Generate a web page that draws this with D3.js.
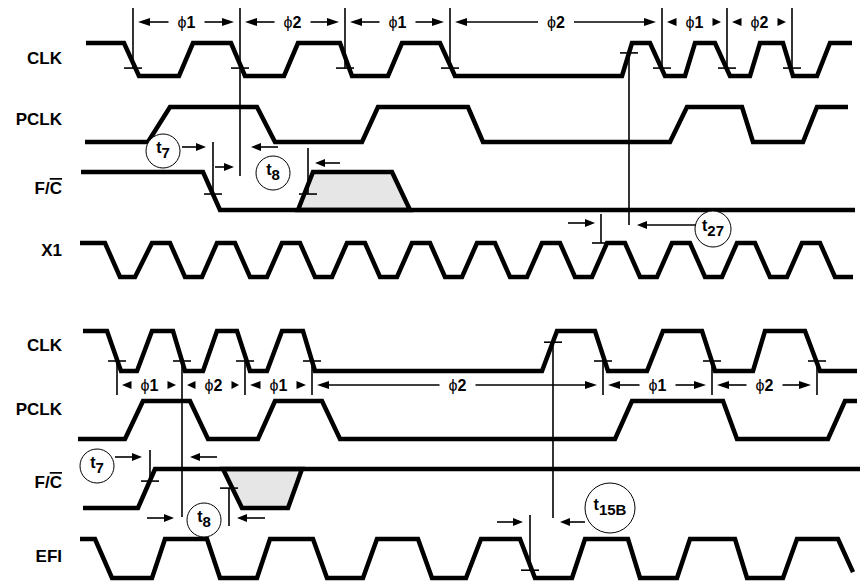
<!DOCTYPE html>
<html>
<head>
<style>
body { margin: 0; background: #fff; }
svg { font-family: "Liberation Sans", Arial, sans-serif; }
.wave { fill: none; stroke: #000; stroke-width: 4.5; stroke-linejoin: miter; }
.shade { fill: #e6e6e6; stroke: #000; stroke-width: 4.5; stroke-linejoin: miter; }
.mark { stroke: #000; stroke-width: 1.6; }
.lbl { font-weight: bold; font-size: 17px; }
.circ { fill: #fff; stroke: #000; stroke-width: 1; }
</style>
<title>timing</title>
<script src="https://cdn.jsdelivr.net/npm/d3@7/dist/d3.min.js"></script>
</head>
<body>
<svg width="860" height="583"></svg>
<script>

// waveform breakpoints: [time, level]  (level 1 = high, 0 = low)
var clkA = [[86,1],[124,1],[139,0],[179,0],[193,1],[231,1],[245,0],[284,0],[298,1],[340,1],[352,0],[388,0],[402,1],[440,1],[455,0],
            [622,0],[632,1],[650,1],[665,0],[685,0],[695,1],[715,1],[730,0],[750,0],[760,1],[783,1],[793,0],[817,0],[830,1],[852,1]];
var pclkA = [[85,0],[148,0],[170,1],[257,1],[275,0],[362,0],[378,1],[468,1],[483,0],[670,0],[687,1],[742,1],[753,0],[803,0],[817,1],[848,1]];
var fcA = [[81,1],[203,1],[220,0],[855,0]];
var fcAshade = [[298,0],[313,1],[392,1],[410,0]];
var x1 = [[80,1],[105,1],[120,0],[135,0],[152,1],[170,1],[185,0],[202,0],[217,1],[235,1],[250,0],[267,0],[282,1],[300,1],
          [315,0],[332,0],[347,1],[365,1],[380,0],[397,0],[412,1],[430,1],[445,0],[462,0],[477,1],[495,1],[510,0],[527,0],
          [542,1],[560,1],[575,0],[592,0],[607,1],[625,1],[640,0],[657,0],[672,1],[690,1],[705,0],[722,0],[737,1],[755,1],
          [770,0],[787,0],[802,1],[820,1],[835,0],[853,0]];

var clkB = [[83,1],[107,1],[121,0],[137,0],[152,1],[173,1],[185,0],[203,0],[217,1],[237,1],[250,0],[267,0],[282,1],[303,1],
            [315,0],[542,0],[557,1],[595,1],[608,0],[647,0],[663,1],[702,1],[715,0],[753,0],[765,1],[805,1],[820,0],[857,0]];
var pclkB = [[78,0],[125,0],[143,1],[190,1],[208,0],[258,0],[275,1],[322,1],[340,0],[615,0],[632,1],[723,1],[737,0],[828,0],[845,1],[857,1]];
var fcB = [[83,0],[138,0],[155,1],[860,1]];
var fcBshade = [[223,1],[242,0],[288,0],[302,1]];
var efi = [[80,1],[95,1],[112,0],[152,0],[165,1],[207,1],[220,0],[257,0],[270,1],[313,1],[327,0],[363,0],[377,1],[418,1],
           [432,0],[466,0],[481,1],[520,1],[535,0],[572,0],[585,1],[628,1],[640,0],[677,0],[690,1],[735,1],[747,0],[783,0],
           [797,1],[838,1],[853,0.15]];

// phase boundaries (clock edges) and labels
var phaseA = [133,240,345,450,662,727,792];
var phaseB = [117,182,245,312,603,712,817];
var phaseLabels = ["1","2","1","2","1","2"];

var svg = d3.select("svg");
var x = d3.scaleLinear().domain([0, 860]).range([0, 860]);

// row layout: y of high and low level
var rows = {
  clkA:  {name:"CLK",  hi:43,  lo:76},
  pclkA: {name:"PCLK", hi:107, lo:142},
  fcA:   {name:"F/C",  hi:172, lo:210},
  x1:    {name:"X1",   hi:243, lo:277},
  clkB:  {name:"CLK",  hi:331, lo:371},
  pclkB: {name:"PCLK", hi:401, lo:439},
  fcB:   {name:"F/C",  hi:469, lo:508},
  efi:   {name:"EFI",  hi:539, lo:578}
};
Object.keys(rows).forEach(function(k) {
  rows[k].y = d3.scaleLinear().domain([0, 1]).range([rows[k].lo, rows[k].hi]);
});

function lineFor(r) {
  return d3.line().x(function(d) { return x(d[0]); }).y(function(d) { return r.y(d[1]); });
}

// shaded (undefined) regions first
[[fcAshade, rows.fcA], [fcBshade, rows.fcB]].forEach(function(s) {
  svg.append("path").attr("class", "shade").attr("d", lineFor(s[1])(s[0]) + "Z");
});

[[clkA,"clkA"],[pclkA,"pclkA"],[fcA,"fcA"],[x1,"x1"],[clkB,"clkB"],[pclkB,"pclkB"],[fcB,"fcB"],[efi,"efi"]].forEach(function(w) {
  svg.append("path").attr("class", "wave").attr("d", lineFor(rows[w[1]])(w[0]));
});

// signal names
var labelY = {clkA:58, pclkA:119, fcA:188, x1:250, clkB:345, pclkB:409, fcB:482, efi:556};
Object.keys(rows).forEach(function(k) {
  var r = rows[k];
  var t = svg.append("text").attr("class", "lbl")
    .attr("x", 62).attr("y", labelY[k] + 6)
    .attr("text-anchor", "end");
  if (r.name == "F/C") {
    t.append("tspan").text("F/");
    t.append("tspan").style("text-decoration", "overline").text("C");
  } else {
    t.text(r.name);
  }
});

function vline(t, y1, y2) {
  svg.append("line").attr("class", "mark")
    .attr("x1", x(t)).attr("x2", x(t)).attr("y1", y1).attr("y2", y2);
}
function tick(t, r, lvl) {
  var yy = r.y(lvl);
  svg.append("line").attr("class", "mark")
    .attr("x1", x(t) - 9).attr("x2", x(t) + 9).attr("y1", yy).attr("y2", yy);
  return yy;
}
// arrow from tail to tip (horizontal)
function arrow(tail, tip, y, head) {
  head = head || 10;
  var dir = tip > tail ? 1 : -1;
  var len = Math.abs(tip - tail);
  if (len > head + 2) {
    svg.append("line").attr("class", "mark")
      .attr("x1", tail).attr("x2", tip - dir * head).attr("y1", y).attr("y2", y);
  } else {
    head = len;
  }
  svg.append("path")
    .attr("d", "M" + tip + "," + y + "L" + (tip - dir * head) + "," + (y - 4) + "L" + (tip - dir * head) + "," + (y + 4) + "Z")
    .attr("fill", "#000");
}
function phases(edges, y) {
  for (var i = 0; i < edges.length - 1; i++) {
    var a = x(edges[i]), b = x(edges[i + 1]), cx = (a + b) / 2;
    var t = svg.append("text").attr("x", cx).attr("y", y + 6)
      .attr("text-anchor", "middle").style("font-size", "16px");
    t.append("tspan").text("\u03d5");
    t.append("tspan").style("font-weight", "bold").text(phaseLabels[i]);
    arrow(cx - 18, a + 5, y, 12);
    arrow(cx + 18, b - 6, y, 12);
  }
}
function tcirc(cx, cy, r, sub) {
  svg.append("circle").attr("class", "circ").attr("cx", cx).attr("cy", cy).attr("r", r);
  var t = svg.append("text").attr("x", cx).attr("y", cy + 2)
    .attr("text-anchor", "middle").style("font-weight", "bold").style("font-size", "16px");
  t.append("tspan").text("t");
  t.append("tspan").attr("dy", 5).style("font-size", "15px").text(sub);
}

// ---- top diagram ----
phaseA.forEach(function(t) {
  var yy = tick(t, rows.clkA, 0.24);
  vline(t, 8, t == 240 ? 176 : yy);
});
phases(phaseA, 22);
var yr = tick(629, rows.clkA, 0.7);
vline(629, yr, 225);

var yf = tick(213, rows.fcA, 0.42);
vline(213, 142, yf);
tick(308, rows.fcA, 0.42);
vline(308, 148, yf);
tick(601, rows.x1, 1);
vline(601, 214, rows.x1.y(1));

tcirc(163, 151, 17, "7");
arrow(182, 206, 147);
arrow(278, 251, 147);
tcirc(273, 173, 17, "8");
arrow(215, 234, 167);
arrow(340, 315, 163);
tcirc(713, 229, 18, "27");
arrow(568, 595, 223);
arrow(696, 637, 225);

// ---- bottom diagram ----
phaseB.forEach(function(t) {
  var yy = tick(t, rows.clkB, 0.25);
  vline(t, yy, t == 182 ? 517 : 395);
});
phases(phaseB, 385);
yr = tick(553, rows.clkB, 0.72);
vline(553, yr, 518);

var yb = tick(150, rows.fcB, 0.69);
vline(150, 450, yb);
yb = tick(229, rows.fcB, 0.51);
vline(229, yb, 526);
var ye = tick(530, rows.efi, 0.2);
vline(530, 515, ye);

tcirc(97, 466, 17, "7");
arrow(115, 142, 457);
arrow(217, 190, 457);
tcirc(204, 520, 17, "8");
arrow(147, 174, 518);
arrow(265, 237, 518);
tcirc(610, 508, 25, "15B");
arrow(497, 523, 522);
arrow(585, 560, 522);

</script>
</body>
</html>
